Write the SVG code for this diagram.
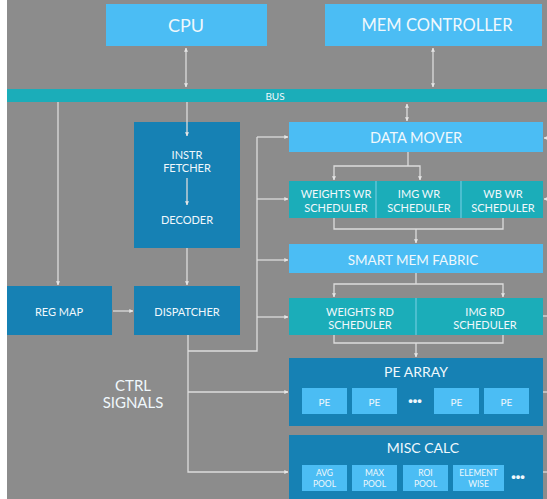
<svg xmlns="http://www.w3.org/2000/svg" width="547" height="499" viewBox="0 0 547 499">
  <defs>
    <marker id="ah" viewBox="0 0 6 6" refX="5.5" refY="3" markerWidth="4" markerHeight="4" orient="auto-start-reverse" markerUnits="userSpaceOnUse">
      <path d="M0,0 L6,3 L0,6 Z" fill="#e6e6e6"/>
    </marker>
    <style>
      .light { fill: #4bbdf4; }
      .teal { fill: #1badb9; }
      .dark { fill: #1681b4; }
      .sub { fill: #4bbdf4; }
      .t { font-family: Lato, "Open Sans", "Liberation Sans", sans-serif; fill: #f0f8fc; text-anchor: middle; dominant-baseline: central; }
      .sm { font-size: 11px; }
      .pe { font-size: 10px; }
      .tiny { font-size: 8.5px; }
      .w { stroke: #dcdcdc; stroke-width: 1.3; fill: none; }
      .div { stroke: #7fd0e6; stroke-width: 1; }
      .dots { font-family: "Liberation Sans", sans-serif; font-size: 13px; font-weight: bold; fill: #f0f8fc; text-anchor: middle; dominant-baseline: central; }
    </style>
  </defs>

  <!-- canvas -->
  <rect x="0" y="0" width="547" height="499" fill="#ffffff"/>
  <rect x="7" y="0" width="540" height="499" fill="#8c8c8c"/>

  <!-- top level -->
  <g id="cpu">
    <rect class="light" x="106" y="4" width="161" height="42"/>
    <text class="t" style="font-size:18px" x="186" y="25">CPU</text>
  </g>
  <g id="mem-controller">
    <rect class="light" x="325" y="4" width="217" height="42"/>
    <text class="t" style="font-size:16.5px" x="437" y="25">MEM CONTROLLER</text>
  </g>
  <g id="bus">
    <rect class="teal" x="7" y="89" width="540" height="13"/>
    <text class="t" style="font-size:10px" x="275" y="95.5">BUS</text>
  </g>

  <!-- control path -->
  <g id="instr-fetcher-decoder">
    <rect class="dark" x="134" y="122" width="106" height="126"/>
    <text class="t sm" x="187" y="154">INSTR</text>
    <text class="t sm" x="187" y="167">FETCHER</text>
    <text class="t sm" x="187" y="219">DECODER</text>
  </g>
  <g id="reg-map">
    <rect class="dark" x="7" y="286" width="105" height="49"/>
    <text class="t sm" x="59" y="311">REG MAP</text>
  </g>
  <g id="dispatcher">
    <rect class="dark" x="134" y="286" width="106" height="49"/>
    <text class="t sm" x="187" y="311">DISPATCHER</text>
  </g>
  <g id="ctrl-signals">
    <text class="t" style="font-size:15px" x="133" y="385">CTRL</text>
    <text class="t" style="font-size:15px" x="133" y="402">SIGNALS</text>
  </g>

  <!-- data path -->
  <g id="data-mover">
    <rect class="light" x="289" y="122" width="254" height="30"/>
    <text class="t" style="font-size:14.5px" x="416" y="137">DATA MOVER</text>
  </g>
  <g id="wr-schedulers">
    <rect class="teal" x="289" y="181" width="254" height="37"/>
    <line class="div" x1="376" y1="181" x2="376" y2="218"/>
    <line class="div" x1="461" y1="181" x2="461" y2="218"/>
    <text class="t sm" x="336" y="193">WEIGHTS WR</text>
    <text class="t sm" x="336" y="207">SCHEDULER</text>
    <text class="t sm" x="419" y="193">IMG WR</text>
    <text class="t sm" x="419" y="207">SCHEDULER</text>
    <text class="t sm" x="503" y="193">WB WR</text>
    <text class="t sm" x="503" y="207">SCHEDULER</text>
  </g>
  <g id="smart-mem-fabric">
    <rect class="light" x="289" y="244" width="254" height="29"/>
    <text class="t" style="font-size:13.5px" x="413" y="260">SMART MEM FABRIC</text>
  </g>
  <g id="rd-schedulers">
    <rect class="teal" x="289" y="298" width="254" height="37"/>
    <line class="div" x1="416" y1="298" x2="416" y2="335"/>
    <text class="t sm" x="360" y="311">WEIGHTS RD</text>
    <text class="t sm" x="360" y="324">SCHEDULER</text>
    <text class="t sm" x="485" y="311">IMG RD</text>
    <text class="t sm" x="485" y="324">SCHEDULER</text>
  </g>
  <g id="pe-array">
    <rect class="dark" x="289" y="358" width="254" height="68"/>
    <text class="t" style="font-size:14px" x="416" y="371">PE ARRAY</text>
    <rect class="sub" x="302" y="388" width="45" height="26"/>
    <rect class="sub" x="352" y="388" width="45" height="26"/>
    <rect class="sub" x="434" y="388" width="45" height="26"/>
    <rect class="sub" x="484" y="388" width="45" height="26"/>
    <text class="t pe" x="324.5" y="402">PE</text>
    <text class="t pe" x="374.5" y="402">PE</text>
    <text class="dots" x="415" y="400">•••</text>
    <text class="t pe" x="456.5" y="402">PE</text>
    <text class="t pe" x="506.5" y="402">PE</text>
  </g>
  <g id="misc-calc">
    <rect class="dark" x="289" y="435" width="254" height="64"/>
    <text class="t" style="font-size:14px" x="423" y="447">MISC CALC</text>
    <rect class="sub" x="302" y="465" width="45" height="26"/>
    <rect class="sub" x="352" y="465" width="45" height="26"/>
    <rect class="sub" x="403" y="465" width="45" height="26"/>
    <rect class="sub" x="453" y="465" width="51" height="26"/>
    <text class="t tiny" x="324.5" y="473">AVG</text>
    <text class="t tiny" x="324.5" y="483.5">POOL</text>
    <text class="t tiny" x="374.5" y="473">MAX</text>
    <text class="t tiny" x="374.5" y="483.5">POOL</text>
    <text class="t tiny" x="425.5" y="473">ROI</text>
    <text class="t tiny" x="425.5" y="483.5">POOL</text>
    <text class="t tiny" x="478.5" y="473">ELEMENT</text>
    <text class="t tiny" x="478.5" y="483.5">WISE</text>
    <text class="dots" x="518" y="476">•••</text>
  </g>

  <!-- connectors -->
  <g id="connectors">
    <!-- bus links -->
    <line class="w" x1="186" y1="48" x2="186" y2="87" marker-start="url(#ah)" marker-end="url(#ah)"/>
    <line class="w" x1="433" y1="48" x2="433" y2="87" marker-start="url(#ah)" marker-end="url(#ah)"/>
    <line class="w" x1="407" y1="104" x2="407" y2="121" marker-start="url(#ah)" marker-end="url(#ah)"/>
    <line class="w" x1="187" y1="102" x2="187" y2="136" marker-end="url(#ah)"/>
    <line class="w" x1="58" y1="102" x2="58" y2="285" marker-end="url(#ah)"/>

    <!-- control chain -->
    <line class="w" x1="187" y1="178" x2="187" y2="205" marker-end="url(#ah)"/>
    <line class="w" x1="187" y1="248" x2="187" y2="285" marker-end="url(#ah)"/>
    <line class="w" x1="113" y1="311" x2="133" y2="311" marker-end="url(#ah)"/>

    <!-- control signals from dispatcher -->
    <polyline class="w" points="188,335 188,472 288,472" marker-end="url(#ah)"/>
    <line class="w" x1="188" y1="392" x2="288" y2="392" marker-end="url(#ah)"/>
    <polyline class="w" points="188,351 257,351 257,137"/>
    <line class="w" x1="257" y1="137" x2="288" y2="137" marker-end="url(#ah)"/>
    <line class="w" x1="257" y1="199" x2="288" y2="199" marker-end="url(#ah)"/>
    <line class="w" x1="257" y1="260" x2="288" y2="260" marker-end="url(#ah)"/>
    <line class="w" x1="257" y1="317" x2="288" y2="317" marker-end="url(#ah)"/>

    <!-- data mover to write schedulers -->
    <polyline class="w" points="408,152 408,166"/>
    <polyline class="w" points="334,180 334,166 420,166 420,180" marker-start="url(#ah)" marker-end="url(#ah)"/>
    <!-- write schedulers to smart mem fabric -->
    <polyline class="w" points="334,218 334,229 503,229 503,218"/>
    <line class="w" x1="416" y1="229" x2="416" y2="243" marker-end="url(#ah)"/>
    <!-- smart mem fabric to read schedulers -->
    <line class="w" x1="416" y1="273" x2="416" y2="284"/>
    <polyline class="w" points="334,297 334,284 503,284 503,297" marker-start="url(#ah)" marker-end="url(#ah)"/>
    <!-- read schedulers to PE array -->
    <polyline class="w" points="334,335 334,343 503,343 503,335"/>
    <line class="w" x1="416" y1="343" x2="416" y2="357" marker-end="url(#ah)"/>

    <!-- stubs entering from the right -->
    <line class="w" x1="547" y1="138" x2="544" y2="138" marker-end="url(#ah)"/>
    <line class="w" x1="547" y1="199" x2="544" y2="199" marker-end="url(#ah)"/>
    <line class="w" x1="547" y1="316" x2="543" y2="316"/>
    <line class="w" x1="547" y1="392" x2="543" y2="392"/>
    <line class="w" x1="547" y1="472" x2="543" y2="472"/>
  </g>
</svg>
